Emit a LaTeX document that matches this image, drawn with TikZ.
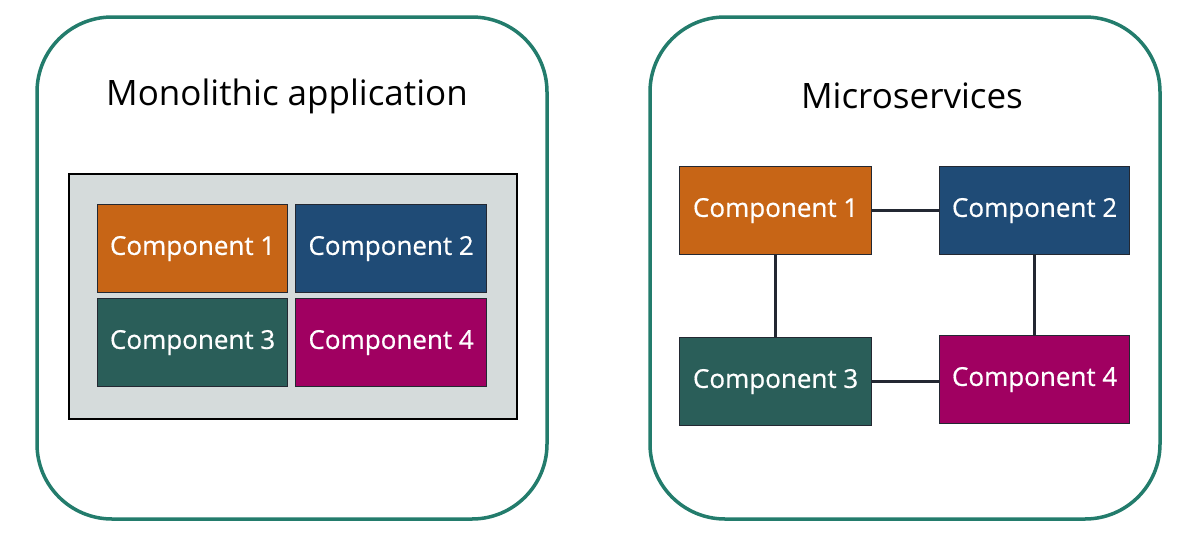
\documentclass[tikz,border=0pt]{standalone}
\usepackage{fontspec}
\setmainfont{Open Sans}
\newfontfamily\compfont[FakeBold=0.6]{Open Sans}
\definecolor{outerg}{RGB}{35,124,108}
\definecolor{corange}{RGB}{199,101,22}
\definecolor{cblue}{RGB}{31,75,118}
\definecolor{cteal}{RGB}{42,94,89}
\definecolor{cmag}{RGB}{160,0,97}
\definecolor{cgray}{RGB}{213,219,219}
\definecolor{cedge}{RGB}{35,40,50}
\begin{document}
\begin{tikzpicture}[x=1pt,y=-1pt,
  panel/.style={draw=outerg,line width=3.5pt,rounded corners=75pt,fill=white},
  comp/.style={draw=cedge,line width=1.2pt,text=white,inner sep=0pt,
    font=\compfont\fontsize{26}{30}\selectfont,anchor=north west},
  link/.style={draw=cedge,line width=2.6pt},
  title/.style={font=\fontsize{35}{40}\selectfont,text=black}]
\useasboundingbox (0,0) rectangle (1186,538);
\fill[white] (0,0) rectangle (1186,538);
% panels
\draw[panel] (37,17) rectangle (547,519);
\draw[panel] (650,17) rectangle (1160,519);
\node[title] (t1) at (287,96) {Monolithic application};
\node[title] (t2) at (912,96) {Microservices};
% monolith
\node[draw=black,line width=2.2pt,fill=cgray,minimum width=448pt,minimum height=245pt,anchor=north west,inner sep=0pt] (mono) at (68,173) {};
\node[comp,fill=corange,minimum width=190pt,minimum height=88pt] (m1) at (97,204) {Component 1};
\node[comp,fill=cblue,minimum width=191pt,minimum height=88pt] (m2) at (295,204) {Component 2};
\node[comp,fill=cteal,minimum width=190pt,minimum height=88pt] (m3) at (97,298) {Component 3};
\node[comp,fill=cmag,minimum width=191pt,minimum height=88pt] (m4) at (295,298) {Component 4};
% microservices
\node[comp,fill=corange,minimum width=192pt,minimum height=88pt] (s1) at (679,166) {Component 1};
\node[comp,fill=cblue,minimum width=190pt,minimum height=88pt] (s2) at (939,166) {Component 2};
\node[comp,fill=cteal,minimum width=192pt,minimum height=88pt] (s3) at (679,337) {Component 3};
\node[comp,fill=cmag,minimum width=190pt,minimum height=88pt] (s4) at (939,335) {Component 4};
\draw[link] (s1.east) -- (s2.west);
\draw[link] (s3.east) -- (s3.east -| s4.west);
\draw[link] (s1.south) -- (s3.north);
\draw[link] (s2.south) -- (s4.north);
\end{tikzpicture}
\end{document}
